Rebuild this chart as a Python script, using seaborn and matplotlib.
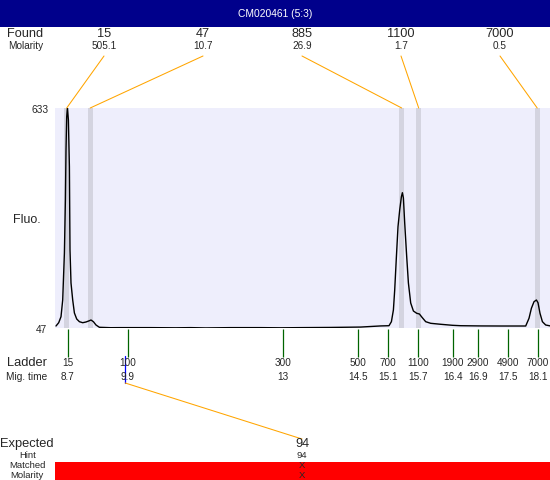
import matplotlib
matplotlib.use("Agg")
import matplotlib.pyplot as plt
import matplotlib.transforms as mtransforms
from matplotlib.patches import Rectangle
import seaborn as sns

# data
sample_name = "CM020461 (5:3)"

found_sizes = ["15", "47", "885", "1100", "7000"]
found_molarity = ["505.1", "10.7", "26.9", "1.7", "0.5"]
found_times = [8.68, 9.15, 15.38, 15.72, 18.09]

ladder_sizes = ["15", "100", "300", "500", "700", "1100", "1900", "2900", "4900", "7000"]
ladder_times = [8.7, 9.9, 13.0, 14.5, 15.1, 15.7, 16.4, 16.9, 17.5, 18.1]

expected_size = "94"
expected_hint = "94"
expected_time = 9.85

fluo_min, fluo_max = 47, 633

trace_time = [8.466, 8.52, 8.566, 8.6, 8.634, 8.654, 8.666, 8.68, 8.694, 8.714,
              8.734, 8.746, 8.766, 8.8, 8.834, 8.88, 8.934, 9.0, 9.066, 9.134,
              9.166, 9.214, 9.266, 9.334, 9.56, 9.76, 10.36, 10.86, 11.16, 11.46,
              11.96, 12.56, 12.96, 13.36, 13.96, 14.56, 14.76, 14.96, 15.126, 15.174,
              15.214, 15.24, 15.274, 15.306, 15.34, 15.374, 15.394, 15.414, 15.44, 15.48,
              15.514, 15.56, 15.614, 15.68, 15.734, 15.786, 15.86, 15.96, 16.16, 16.394,
              16.56, 16.96, 17.36, 17.86, 17.926, 17.974, 18.026, 18.074, 18.106, 18.146,
              18.194, 18.26, 18.36]
trace_fluo = [52.3, 61.1, 77.1, 121.6, 246.8, 387.9, 521.1, 609.8, 633.0, 601.0,
              476.6, 254.8, 166.9, 121.6, 87.0, 71.0, 63.8, 61.1, 63.0, 66.4,
              68.3, 63.8, 55.0, 48.9, 47.8, 48.0, 48.0, 47.5, 48.0, 47.2,
              48.0, 48.0, 47.5, 48.0, 48.5, 49.5, 51.0, 52.5, 53.1, 63.8,
              95.0, 148.2, 236.9, 316.8, 361.3, 396.7, 407.4, 393.3, 326.7, 236.9,
              166.9, 113.6, 92.3, 86.2, 84.3, 75.5, 63.8, 59.5, 56.9, 54.2,
              53.1, 52.5, 52.3, 52.3, 72.8, 99.5, 117.0, 121.6, 114.4, 86.2,
              63.8, 55.0, 52.3]

sns.set_theme(style="white")
plt.rcParams["font.family"] = ["Liberation Sans", "DejaVu Sans"]

W, H = 550, 480
fig = plt.figure(figsize=(W / 100, H / 100), dpi=100)


def fx(x):
    return x / W


def fy(y):
    return 1 - y / H


# plot area
ax = fig.add_axes([fx(55), fy(328), fx(495), 220 / H])
ax.set_facecolor("#EEEEFC")
for t in found_times:
    ax.axvspan(t - 0.05, t + 0.05, color="#D4D4E0", lw=0, zorder=1)
sns.lineplot(x=trace_time, y=trace_fluo, ax=ax, color="black", lw=1.0, zorder=3)
ax.set_xlim(8.446, 18.346)
ax.set_ylim(fluo_min, fluo_max)
for s in ax.spines.values():
    s.set_visible(False)
ax.set_xticks([])
ax.set_yticks([])
ax.set_xlabel("")
ax.set_ylabel("")
fig.text(fx(49), fy(110), str(fluo_max), fontsize=7.3, ha="right", va="center")
fig.text(fx(47), fy(330), str(fluo_min), fontsize=7.3, ha="right", va="center")

# header band
fig.add_artist(Rectangle((0, fy(27)), 1, 27 / H, transform=fig.transFigure,
                         color="#00008B", lw=0))
fig.text(0.5, fy(14), sample_name, color="white", fontsize=7.4, ha="center", va="center")

# found peaks
fig.text(fx(25), fy(34), "Found", fontsize=9.2, ha="center", va="center")
fig.text(fx(26), fy(46), "Molarity", fontsize=7.2, ha="center", va="center")
label_x = [104, 203, 302, 401, 500]
for lx, size, mol, t in zip(label_x, found_sizes, found_molarity, found_times):
    fig.text(fx(lx), fy(34), size, fontsize=9.2, ha="center", va="center")
    fig.text(fx(lx), fy(46), mol, fontsize=7.2, ha="center", va="center")
    ax.annotate("", xy=(t, 1), xycoords=("data", "axes fraction"),
                xytext=(fx(lx), fy(56)), textcoords="figure fraction",
                arrowprops=dict(arrowstyle="-", color="orange", lw=0.75,
                                shrinkA=0, shrinkB=0),
                annotation_clip=False)

fig.text(fx(27), fy(220), "Fluo.", fontsize=9, ha="center", va="center")

# ladder
trans = mtransforms.blended_transform_factory(ax.transData, fig.transFigure)
ax.vlines(ladder_times, fy(329), fy(357), transform=trans, color="#006400",
          lw=0.9, clip_on=False)
fig.text(fx(27), fy(363), "Ladder", fontsize=9.3, ha="center", va="center")
fig.text(fx(27), fy(377), "Mig. time", fontsize=7.3, ha="center", va="center")
for size, t in zip(ladder_sizes, ladder_times):
    ax.text(t, fy(363), size, transform=trans, fontsize=7.2, ha="center", va="center")
    ax.text(t, fy(377), f"{t:g}", transform=trans, fontsize=7.2, ha="center", va="center")

# expected
ax.plot([expected_time, expected_time], [fy(356), fy(383)], transform=trans,
        color="blue", lw=0.9, clip_on=False)
ax.annotate("", xy=(expected_time, fy(383)), xycoords=trans,
            xytext=(fx(302), fy(439)), textcoords="figure fraction",
            arrowprops=dict(arrowstyle="-", color="orange", lw=0.75,
                            shrinkA=0, shrinkB=0),
            annotation_clip=False)

fig.add_artist(Rectangle((fx(55), 0), fx(495), 18 / H, transform=fig.transFigure,
                         color="red", lw=0))
fig.text(fx(27), fy(444), "Expected", fontsize=9.3, ha="center", va="center")
fig.text(fx(28), fy(456), "Hint", fontsize=6.8, ha="center", va="center")
fig.text(fx(27), fy(466), "Matched", fontsize=6.8, ha="center", va="center")
fig.text(fx(27), fy(479.5), "Molarity", fontsize=6.8, ha="center", va="bottom")
fig.text(fx(302), fy(444), expected_size, fontsize=9.2, ha="center", va="center")
fig.text(fx(302), fy(456), expected_hint, fontsize=6.8, ha="center", va="center")
fig.text(fx(302), fy(466), "X", fontsize=6.8, ha="center", va="center")
fig.text(fx(302), fy(479.5), "X", fontsize=6.8, ha="center", va="bottom")

fig.savefig("out.png", dpi=100)
